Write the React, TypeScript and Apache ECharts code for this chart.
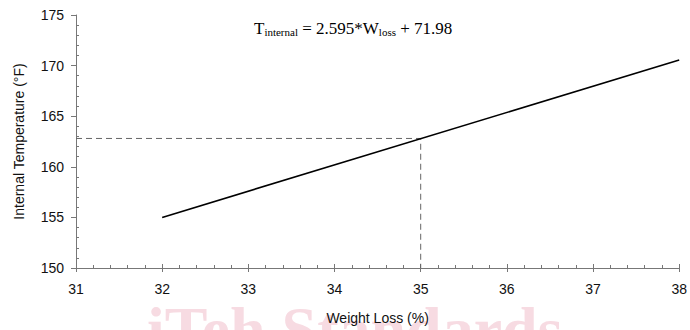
import React, { useEffect, useRef } from "react";
import * as echarts from "echarts";

const fitLine: [number, number][] = [
  [32, 155.0],
  [38, 170.55],
];
const guideLine: [number, number][] = [
  [31, 162.8],
  [35, 162.8],
  [35, 150],
];
const xRange = [31, 38];
const yRange = [150, 175];
const xTitle = "Weight Loss (%)";
const yTitle = "Internal Temperature (°F)";
const watermark = "iTeh Standards";

export default function App() {
  const ref = useRef<HTMLDivElement>(null);
  useEffect(() => {
    if (!ref.current) return;
    const chart = echarts.init(ref.current, null, { renderer: "svg" });
    const axisColor = "#777";
    const labelFont = { fontFamily: "Liberation Sans", fontSize: 14, color: "#111" };
    chart.setOption({
      animation: false,
      backgroundColor: "#fff",
      grid: { left: 76, right: 9, top: 15, bottom: 60 },
      graphic: [
        {
          type: "text",
          left: 147,
          top: 297,
          z: -10,
          silent: true,
          style: {
            text: watermark,
            font: "bold 64px 'Liberation Serif'",
            fill: "#f7dbe2",
          },
        },
        {
          type: "text",
          left: 254,
          top: 20,
          style: {
            text: "T{s|internal} = 2.595*W{s|loss} + 71.98",
            font: "17px 'Liberation Serif'",
            fill: "#000",
            rich: {
              s: {
                fontFamily: "Liberation Serif",
                fontSize: 11,
                padding: [7, 0, 0, 0],
                fill: "#000",
              },
            },
          },
        },
      ],
      xAxis: [
        {
          type: "value",
          min: xRange[0],
          max: xRange[1],
          interval: 1,
          name: xTitle,
          nameLocation: "middle",
          nameGap: 43,
          nameTextStyle: labelFont,
          axisLine: { lineStyle: { color: axisColor } },
          axisTick: { length: 4, lineStyle: { color: axisColor } },
          axisLabel: { ...labelFont, margin: 14 },
          splitLine: { show: false },
        },
        {
          type: "value",
          min: xRange[0],
          max: xRange[1],
          interval: 1,
          position: "bottom",
          axisLine: { show: false },
          axisTick: { inside: true, length: 4, lineStyle: { color: axisColor } },
          minorTick: { show: true, splitNumber: 5, length: 3, lineStyle: { color: axisColor } },
          axisLabel: { show: false },
          splitLine: { show: false },
        },
      ],
      yAxis: [
        {
          type: "value",
          min: yRange[0],
          max: yRange[1],
          interval: 5,
          name: yTitle,
          nameLocation: "middle",
          nameGap: 50,
          nameTextStyle: labelFont,
          axisLine: { show: true, lineStyle: { color: axisColor } },
          axisTick: { show: true, length: 5, lineStyle: { color: axisColor } },
          axisLabel: { ...labelFont, margin: 12 },
          splitLine: { show: false },
        },
        {
          type: "value",
          min: yRange[0],
          max: yRange[1],
          interval: 5,
          position: "left",
          axisLine: { show: false },
          axisTick: { show: true, inside: true, length: 0, lineStyle: { color: axisColor } },
          minorTick: { show: true, splitNumber: 5, length: 3, lineStyle: { color: axisColor } },
          axisLabel: { show: false },
          splitLine: { show: false },
        },
      ],
      series: [
        {
          type: "line",
          data: guideLine,
          symbol: "none",
          lineStyle: { color: "#666", width: 1, type: [6, 4] },
        },
        {
          type: "line",
          data: fitLine,
          symbol: "none",
          lineStyle: { color: "#000", width: 1.6 },
        },
      ],
    });
    return () => chart.dispose();
  }, []);
  return <div ref={ref} style={{ width: 690, height: 330, position: "absolute", left: 0, top: 0 }} />;
}
